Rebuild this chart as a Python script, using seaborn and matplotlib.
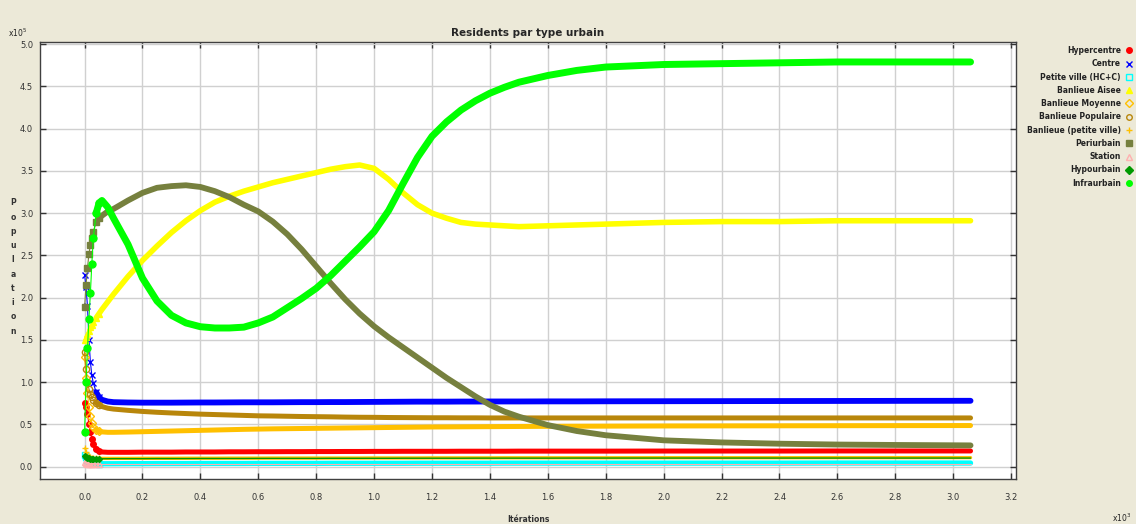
import matplotlib
matplotlib.use("Agg")
import matplotlib.pyplot as plt
import matplotlib.ticker as mticker
from matplotlib.lines import Line2D
import seaborn as sns

# values, population in units of 1e5
iterations = [0, 5, 10, 15, 20, 25, 30, 40, 50, 60,
              80, 100, 150, 200, 250, 300, 350, 400, 450, 500,
              550, 600, 650, 700, 750, 800, 850, 900, 950, 1000,
              1050, 1100, 1150, 1200, 1250, 1300, 1350, 1400, 1450, 1500,
              1600, 1700, 1800, 2000, 2200, 2400, 2600, 2800, 3060]

hypercentre = [0.75, 0.70, 0.62, 0.50, 0.41, 0.33, 0.27, 0.21, 0.18, 0.172,
               0.168, 0.168, 0.168, 0.17, 0.17, 0.17, 0.172, 0.172, 0.172, 0.174,
               0.174, 0.175, 0.175, 0.176, 0.176, 0.177, 0.177, 0.178, 0.178, 0.179,
               0.179, 0.18, 0.18, 0.18, 0.18, 0.181, 0.181, 0.181, 0.181, 0.182,
               0.182, 0.182, 0.182, 0.183, 0.183, 0.183, 0.184, 0.184, 0.184]
centre = [2.27, 2.12, 1.90, 1.50, 1.24, 1.08, 0.99, 0.88, 0.82, 0.79,
          0.77, 0.762, 0.758, 0.756, 0.756, 0.756, 0.757, 0.758, 0.758, 0.759,
          0.76, 0.76, 0.76, 0.761, 0.762, 0.762, 0.763, 0.763, 0.764, 0.765,
          0.766, 0.767, 0.768, 0.768, 0.768, 0.769, 0.769, 0.77, 0.77, 0.77,
          0.771, 0.771, 0.772, 0.773, 0.774, 0.775, 0.776, 0.777, 0.778]
petite_ville_hc = [0.14, 0.11, 0.08, 0.06, 0.05, 0.045, 0.04, 0.036, 0.034, 0.033,
                   0.033, 0.033, 0.034, 0.034, 0.035, 0.035, 0.035, 0.036, 0.036, 0.036,
                   0.036, 0.037, 0.037, 0.037, 0.037, 0.037, 0.038, 0.038, 0.038, 0.038,
                   0.038, 0.038, 0.039, 0.039, 0.039, 0.039, 0.039, 0.039, 0.04, 0.04,
                   0.04, 0.04, 0.04, 0.04, 0.04, 0.04, 0.041, 0.041, 0.041]
banlieue_aisee = [1.50, 1.53, 1.57, 1.61, 1.65, 1.68, 1.71, 1.76, 1.81, 1.86,
                  1.95, 2.04, 2.25, 2.44, 2.61, 2.77, 2.91, 3.03, 3.13, 3.20,
                  3.26, 3.31, 3.36, 3.40, 3.44, 3.48, 3.52, 3.55, 3.57, 3.53,
                  3.40, 3.24, 3.10, 3.00, 2.94, 2.89, 2.87, 2.86, 2.85, 2.84,
                  2.85, 2.86, 2.87, 2.89, 2.90, 2.90, 2.91, 2.91, 2.91]
banlieue_moyenne = [1.30, 1.05, 0.87, 0.70, 0.60, 0.52, 0.47, 0.43, 0.415, 0.41,
                    0.405, 0.405, 0.408, 0.412, 0.416, 0.42, 0.424, 0.428, 0.432, 0.436,
                    0.44, 0.443, 0.446, 0.448, 0.45, 0.452, 0.454, 0.456, 0.458, 0.46,
                    0.462, 0.464, 0.466, 0.468, 0.469, 0.47, 0.471, 0.472, 0.473, 0.474,
                    0.476, 0.477, 0.478, 0.48, 0.481, 0.482, 0.483, 0.484, 0.485]
banlieue_populaire = [1.36, 1.15, 1.00, 0.92, 0.86, 0.82, 0.79, 0.75, 0.73, 0.71,
                      0.69, 0.68, 0.665, 0.652, 0.642, 0.634, 0.627, 0.62, 0.615, 0.61,
                      0.605, 0.60, 0.598, 0.595, 0.592, 0.59, 0.588, 0.585, 0.583, 0.582,
                      0.58, 0.579, 0.578, 0.577, 0.577, 0.576, 0.576, 0.575, 0.575, 0.575,
                      0.575, 0.575, 0.575, 0.575, 0.575, 0.575, 0.575, 0.575, 0.575]
banlieue_petite_ville = [0.22, 0.17, 0.14, 0.12, 0.11, 0.105, 0.10, 0.098, 0.097, 0.096,
                         0.096, 0.096, 0.096, 0.097, 0.097, 0.097, 0.098, 0.098, 0.098, 0.099,
                         0.099, 0.099, 0.10, 0.10, 0.10, 0.10, 0.10, 0.10, 0.10, 0.101,
                         0.101, 0.101, 0.101, 0.102, 0.102, 0.102, 0.102, 0.102, 0.103, 0.103,
                         0.103, 0.103, 0.103, 0.104, 0.104, 0.104, 0.105, 0.105, 0.105]
periurbain = [1.89, 2.15, 2.35, 2.52, 2.62, 2.70, 2.78, 2.89, 2.94, 2.97,
              3.02, 3.05, 3.15, 3.24, 3.30, 3.32, 3.33, 3.31, 3.26, 3.19,
              3.10, 3.02, 2.90, 2.75, 2.57, 2.37, 2.17, 1.98, 1.81, 1.66,
              1.53, 1.41, 1.29, 1.17, 1.05, 0.94, 0.83, 0.73, 0.65, 0.59,
              0.49, 0.42, 0.37, 0.31, 0.285, 0.27, 0.26, 0.255, 0.25]
station = [0.05, 0.04, 0.035, 0.03, 0.03, 0.03, 0.03, 0.03, 0.03, 0.03,
           0.03, 0.03, 0.03, 0.03, 0.03, 0.03, 0.03, 0.03, 0.03, 0.03,
           0.03, 0.03, 0.03, 0.03, 0.03, 0.03, 0.03, 0.03, 0.03, 0.03,
           0.03, 0.03, 0.03, 0.03, 0.03, 0.03, 0.03, 0.03, 0.03, 0.03,
           0.03, 0.03, 0.03, 0.03, 0.03, 0.03, 0.03, 0.03, 0.03]
hypourbain = [0.13, 0.11, 0.10, 0.095, 0.093, 0.092, 0.092, 0.092, 0.092, 0.092,
              0.092, 0.093, 0.093, 0.093, 0.094, 0.094, 0.094, 0.095, 0.095, 0.095,
              0.095, 0.096, 0.096, 0.096, 0.096, 0.096, 0.097, 0.097, 0.097, 0.097,
              0.097, 0.098, 0.098, 0.098, 0.098, 0.098, 0.099, 0.099, 0.099, 0.099,
              0.099, 0.10, 0.10, 0.10, 0.10, 0.10, 0.10, 0.10, 0.10]
infraurbain = [0.41, 1.00, 1.40, 1.75, 2.05, 2.40, 2.70, 3.00, 3.12, 3.15,
               3.07, 2.94, 2.63, 2.23, 1.96, 1.79, 1.70, 1.655, 1.64, 1.64,
               1.65, 1.70, 1.77, 1.88, 1.99, 2.11, 2.26, 2.43, 2.60, 2.78,
               3.03, 3.35, 3.66, 3.91, 4.08, 4.22, 4.33, 4.42, 4.49, 4.55,
               4.63, 4.69, 4.73, 4.76, 4.77, 4.78, 4.79, 4.79, 4.79]

names = ['Hypercentre', 'Centre', 'Petite ville (HC+C)', 'Banlieue Aisee',
         'Banlieue Moyenne', 'Banlieue Populaire', 'Banlieue (petite ville)',
         'Periurbain', 'Station', 'Hypourbain', 'Infraurbain']
series = [hypercentre, centre, petite_ville_hc, banlieue_aisee, banlieue_moyenne,
          banlieue_populaire, banlieue_petite_ville, periurbain, station,
          hypourbain, infraurbain]

# colour, marker, filled, band width, marker size
styles = {
    'Hypercentre': ('#ff0000', 'o', True, 3.6, 4),
    'Centre': ('#0000ff', 'x', True, 4.2, 5),
    'Petite ville (HC+C)': ('#00ffff', 's', False, 3.8, 4),
    'Banlieue Aisee': ('#ffff00', '^', True, 4.0, 4),
    'Banlieue Moyenne': ('#ffc000', 'D', False, 3.6, 4),
    'Banlieue Populaire': ('#b8860b', 'o', False, 3.6, 4.5),
    'Banlieue (petite ville)': ('#ffc000', '+', True, 2.4, 5),
    'Periurbain': ('#76803e', 's', True, 4.2, 4.5),
    'Station': ('#ffb0b0', '^', False, 0.8, 4),
    'Hypourbain': ('#009900', 'D', True, 1.0, 3),
    'Infraurbain': ('#00ff00', 'o', True, 5.0, 5),
}

sns.set_style("ticks")
plt.rcParams['font.family'] = ['DejaVu Sans']

W, H = 1136, 524
fig = plt.figure(figsize=(W / 100, H / 100), dpi=100, facecolor='#ece9d8')
ax = fig.add_axes([40 / W, 1 - 479 / H, (1016 - 40) / W, (479 - 41.7) / H])
ax.set_facecolor('white')

for name, vals in zip(names, series):
    color, marker, filled, band, ms = styles[name]
    # thick band where the points are packed together
    sns.lineplot(x=iterations[7:], y=vals[7:], color=color, linewidth=band,
                 ax=ax, legend=False, solid_capstyle='round')
    # thin line with separate markers for the steep start
    sns.lineplot(x=iterations[:9], y=vals[:9], color=color, linewidth=0.8, marker=marker,
                 markersize=ms, markerfacecolor=color if filled else 'none',
                 markeredgecolor=color, markeredgewidth=1, ax=ax, legend=False)

ax.set_xlim(-154, 3217)
ax.set_ylim(-0.148, 5.03)
ax.set_xticks(range(0, 3201, 200))
ax.xaxis.set_major_formatter(mticker.FuncFormatter(lambda v, p: f'{v / 1000:.1f}'))
ax.set_yticks([i * 0.5 for i in range(11)])
ax.yaxis.set_major_formatter(mticker.FuncFormatter(lambda v, p: f'{v:.1f}'))
ax.tick_params(direction='in', length=4, width=1, color='#333333',
               labelsize=6, labelcolor='#333333', top=True, right=True)
ax.tick_params(axis='x', pad=10)
ax.tick_params(axis='y', pad=5)
ax.grid(True, color='#d0d0d0', linewidth=1)
ax.set_axisbelow(True)
for s in ax.spines.values():
    s.set_color('#404040')
    s.set_linewidth(1)
ax.set_xlabel('')
ax.set_ylabel('')
ax.set_title('Residents par type urbain', fontsize=7.5, fontweight='bold', pad=4)

fig.text(18 / W, 1 - 33 / H, r'x10$^5$', fontsize=5.5, ha='center', va='center', color='#222222')
fig.text(1122 / W, 1 - 518 / H, r'x10$^3$', fontsize=5.5, ha='center', va='center', color='#222222')
fig.text(13 / W, 1 - 267 / H, '\n'.join('Population'), fontsize=5.5, fontweight='bold',
         ha='center', va='center', linespacing=1.75, color='#333333')
fig.text(528 / W, 1 - 519 / H, 'Itérations', fontsize=5.5, fontweight='bold',
         ha='center', va='center', color='#333333')

handles = []
for name in names:
    color, marker, filled, band, ms = styles[name]
    handles.append(Line2D([], [], ls='none', marker=marker, color=color, markersize=4,
                          markerfacecolor=color if filled else 'none',
                          markeredgecolor=color, markeredgewidth=1))
fig.legend(handles, names, loc='upper right', bbox_to_anchor=(1133 / W, 1 - 46 / H),
           frameon=False, markerfirst=False, handlelength=1.0,
           prop={'size': 5.5, 'weight': 'bold'},
           handletextpad=0.6, labelspacing=0.56, borderpad=0, borderaxespad=0)
for t in fig.legends[0].get_texts():
    t.set_color('#222222')

fig.savefig('out.png', dpi=100, facecolor=fig.get_facecolor())
